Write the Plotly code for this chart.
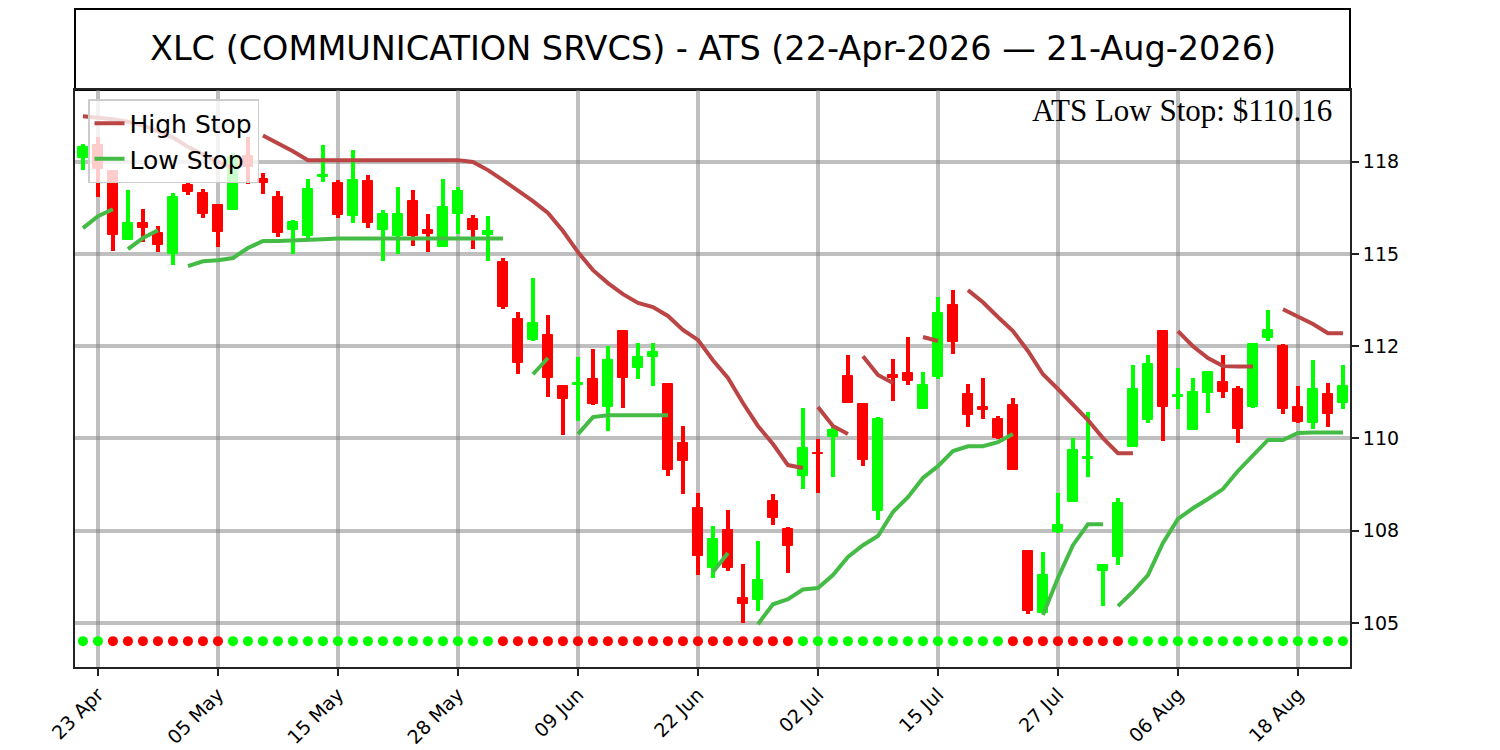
import plotly.graph_objects as go

# ---------------- data ----------------
title_text = "XLC (COMMUNICATION SRVCS) - ATS (22-Apr-2026 \u2014 21-Aug-2026)"
stop_label = "ATS Low Stop: $110.16"

opens = [117.61, 117.95, 117.24, 115.39, 115.85, 115.57, 114.99, 116.86, 116.64, 116.32,
         116.20, 117.65, 117.03, 116.55, 115.66, 115.48, 117.07, 116.92, 116.02, 116.97,
         115.64, 115.48, 116.43, 115.64, 115.20, 116.07, 115.94, 115.51, 114.77, 113.25,
         112.68, 112.80, 111.42, 111.46, 111.60, 110.86, 112.92, 111.90, 112.21, 111.47,
         109.88, 108.11, 106.48, 107.52, 105.67, 105.62, 108.31, 107.54, 108.98, 109.62,
         110.05, 111.69, 110.93, 108.04, 111.72, 111.78, 110.79, 111.67, 113.61, 111.20,
         110.84, 110.52, 110.90, 106.95, 105.26, 107.47, 108.29, 109.44, 106.42, 106.78,
         109.78, 110.50, 112.92, 111.12, 110.23, 111.22, 111.54, 111.33, 110.84, 112.71,
         112.50, 110.86, 110.41, 111.20, 110.97]
highs = [117.99, 118.16, 117.27, 116.73, 116.21, 115.75, 116.64, 116.93, 116.75, 116.34,
         117.73, 118.16, 117.18, 116.71, 115.93, 117.03, 117.95, 117.01, 117.81, 117.13,
         116.20, 116.82, 116.73, 116.08, 117.04, 116.82, 116.05, 116.02, 114.88, 113.42,
         114.34, 113.34, 111.45, 112.20, 112.42, 112.50, 112.95, 112.58, 112.58, 111.47,
         110.34, 108.51, 107.63, 108.06, 106.60, 107.22, 108.49, 107.61, 110.82, 109.98,
         110.36, 112.26, 110.95, 110.59, 112.15, 112.74, 111.79, 113.82, 114.02, 111.47,
         111.63, 110.61, 111.09, 106.95, 106.93, 108.53, 110.02, 110.71, 106.60, 108.38,
         111.99, 112.26, 112.94, 111.90, 111.65, 111.81, 112.26, 111.41, 112.58, 113.48,
         112.56, 111.42, 112.12, 111.51, 111.99]
lows = [117.27, 116.54, 115.08, 115.37, 115.33, 115.06, 114.70, 116.59, 115.96, 115.19,
        116.18, 116.90, 116.62, 115.45, 114.99, 115.37, 116.95, 115.98, 115.84, 115.71,
        114.81, 114.99, 115.22, 115.06, 115.18, 115.54, 115.13, 114.81, 113.50, 111.74,
        112.65, 111.13, 110.09, 110.48, 110.90, 110.21, 110.82, 111.60, 111.41, 108.99,
        108.49, 106.30, 106.21, 106.42, 105.01, 105.33, 107.65, 106.36, 108.62, 108.53,
        108.96, 110.95, 109.25, 107.79, 111.02, 111.45, 110.79, 111.60, 112.28, 110.30,
        110.52, 109.98, 109.16, 105.24, 105.26, 107.44, 108.29, 108.96, 105.46, 106.57,
        109.78, 110.43, 109.94, 110.79, 110.23, 110.70, 111.11, 109.89, 110.82, 112.65,
        110.66, 110.43, 110.25, 110.30, 110.79]
closes = [117.90, 117.30, 115.51, 115.83, 115.71, 115.24, 116.55, 116.68, 116.07, 115.60,
          117.62, 117.35, 116.91, 115.56, 115.87, 116.77, 117.13, 116.05, 116.99, 115.83,
          116.09, 116.09, 115.48, 115.53, 116.26, 116.70, 115.66, 115.62, 113.55, 112.05,
          113.12, 111.65, 111.06, 111.50, 110.93, 112.12, 111.63, 112.20, 112.33, 109.14,
          109.40, 106.82, 107.27, 106.48, 105.53, 106.16, 107.84, 107.09, 109.73, 109.58,
          110.23, 110.97, 109.42, 110.54, 111.63, 111.56, 111.45, 113.39, 112.62, 110.63,
          110.77, 110.00, 109.16, 105.33, 106.30, 107.65, 109.69, 109.51, 106.57, 108.24,
          111.33, 112.03, 110.84, 111.18, 111.26, 111.81, 111.26, 110.25, 112.56, 112.95,
          110.79, 110.45, 111.33, 110.66, 111.42]

# trend state per bar (1 = up / low stop active, -1 = down / high stop active)
trend = [1] * 2 + [-1] * 8 + [1] * 18 + [-1] * 20 + [1] * 14 + [-1] * 8 + [1] * 15

# stop-line segments: (first bar index, values)
high_stop_segments = [
    (0, [118.73, 118.70, 118.65, 118.58, 118.48, 118.32, 118.15, 117.90, 117.70, 117.49, 117.33]),
    (12, [118.21, 118.00, 117.78] + [117.54] * 11 +
         [117.49, 117.27, 117.00, 116.73, 116.43, 116.11, 115.62, 115.05, 114.56, 114.21,
          113.91, 113.67, 113.56, 113.32, 112.94, 112.67, 112.12, 111.64, 110.96, 110.34,
          109.85, 109.28, 109.20]),
    (49, [110.85, 110.34, 110.12]),
    (52, [112.23, 111.72, 111.50]),
    (56, [112.75, 112.64]),
    (59, [114.02, 113.69, 113.29, 112.91, 112.37, 111.74, 111.34, 110.90, 110.50, 110.01,
          109.60, 109.60]),
    (73, [112.91, 112.50, 112.18, 111.96, 111.95, 111.95]),
    (80, [113.50, 113.29, 113.10, 112.85, 112.85]),
]
low_stop_segments = [
    (0, [115.70, 116.02, 116.21]),
    (3, [115.13, 115.43, 115.64]),
    (7, [114.67, 114.80, 114.83, 114.89, 115.16, 115.35, 115.35, 115.36, 115.39, 115.40] +
        [115.42] * 12),
    (30, [111.74, 112.18]),
    (33, [110.12, 110.58, 110.63, 110.63, 110.63, 110.63, 110.63]),
    (42, [106.38, 106.90]),
    (45, [104.97, 105.51, 105.65, 105.91, 105.95, 106.30, 106.79, 107.11, 107.36, 108.01,
          108.41, 108.93, 109.25, 109.66, 109.79, 109.79, 109.90, 110.12]),
    (64, [105.22, 106.22, 107.11, 107.68, 107.68]),
    (69, [105.46, 105.85, 106.30, 107.17, 107.82, 108.11, 108.36, 108.63, 109.12, 109.55,
          109.96, 109.96, 110.15, 110.16, 110.16, 110.16]),
]

x_tick_index = [1, 9, 17, 25, 33, 41, 49, 57, 65, 73, 81]
x_tick_labels = ["23 Apr", "05 May", "15 May", "28 May", "09 Jun", "22 Jun",
                 "02 Jul", "15 Jul", "27 Jul", "06 Aug", "18 Aug"]
y_tick_values = [105, 107.5, 110, 112.5, 115, 117.5]
y_tick_labels = ["105", "108", "110", "112", "115", "118"]

# ---------------- styling constants ----------------
UP = "#00ff00"
DOWN = "#ff0000"
HIGH_COL = "#bb4444"
LOW_COL = "#44bb44"
GRID = "rgba(128,128,128,0.5)"
AXIS = "#222222"
DOT_LEVEL = 104.51
Y_RANGE = [103.81, 119.44]
X_RANGE = [-0.53, 84.47]
PLOT_W = 1275.0
PLOT_H = 577.0
PAGE_OFF = 8  # default page margin of the html body

n = len(opens)
idx = list(range(n))
candle_col = [UP if c >= o else DOWN for o, c in zip(opens, closes)]

fig = go.Figure()

# wicks
fig.add_trace(go.Bar(
    x=idx, y=[h - l for h, l in zip(highs, lows)], base=lows, width=0.22,
    marker=dict(color=candle_col, line=dict(width=0)), showlegend=False, hoverinfo="skip"))
# bodies
fig.add_trace(go.Bar(
    x=idx, y=[abs(c - o) for o, c in zip(opens, closes)],
    base=[min(o, c) for o, c in zip(opens, closes)], width=0.70,
    marker=dict(color=candle_col, line=dict(width=1, color=candle_col)),
    showlegend=False, hoverinfo="skip"))

# stop lines
for k, (start, vals) in enumerate(high_stop_segments):
    fig.add_trace(go.Scatter(
        x=list(range(start, start + len(vals))), y=vals, mode="lines",
        line=dict(color=HIGH_COL, width=4), name="High Stop",
        legendgroup="high", showlegend=(k == 0)))
for k, (start, vals) in enumerate(low_stop_segments):
    fig.add_trace(go.Scatter(
        x=list(range(start, start + len(vals))), y=vals, mode="lines",
        line=dict(color=LOW_COL, width=4), name="Low Stop",
        legendgroup="low", showlegend=(k == 0)))

# trend dots
fig.add_trace(go.Scatter(
    x=idx, y=[DOT_LEVEL] * n, mode="markers",
    marker=dict(size=10, color=[UP if t > 0 else DOWN for t in trend]),
    showlegend=False, hoverinfo="skip"))

# title box
fig.add_shape(type="rect", xref="paper", yref="paper", x0=0, x1=1,
              y0=1, y1=1 + (90 - 9) / PLOT_H, line=dict(color="black", width=2),
              fillcolor="white", layer="below")
fig.add_annotation(text=title_text, xref="paper", yref="paper", x=0.5,
                   y=1 + (90 - 49) / PLOT_H, xanchor="center", yanchor="middle",
                   showarrow=False, font=dict(family="DejaVu Sans", size=33.5, color="black"))
fig.add_annotation(text=stop_label, xref="paper", yref="paper", x=(1334 - 75) / PLOT_W,
                   y=1 - (110 - 90) / PLOT_H, xanchor="right", yanchor="middle",
                   showarrow=False, font=dict(family="Liberation Serif", size=31, color="black"))

fig.update_layout(
    width=1500 - PAGE_OFF, height=750 - PAGE_OFF,
    margin=dict(l=75 - PAGE_OFF, r=150, t=90 - PAGE_OFF, b=83, autoexpand=False),
    paper_bgcolor="white", plot_bgcolor="white",
    barmode="overlay", bargap=0,
    font=dict(family="DejaVu Sans", color="black"),
    legend=dict(x=(88 - 75) / PLOT_W, y=1 - (99 - 90) / PLOT_H, xanchor="left", yanchor="top",
                bgcolor="rgba(255,255,255,0.8)", bordercolor="#cccccc", borderwidth=1.5,
                font=dict(family="DejaVu Sans", size=25, color="black"),
                itemwidth=30, tracegroupgap=0),
    xaxis=dict(range=X_RANGE, tickmode="array", tickvals=x_tick_index, ticktext=x_tick_labels,
               tickangle=-45, ticks="outside", ticklen=7, tickwidth=1.5, tickcolor=AXIS,
               showgrid=True, gridcolor=GRID, gridwidth=4, zeroline=False,
               showline=True, linecolor=AXIS, linewidth=2, mirror=True, automargin=False,
               tickfont=dict(family="DejaVu Sans", size=19, color="black")),
    yaxis=dict(range=Y_RANGE, side="right", tickmode="array", tickvals=y_tick_values,
               ticktext=y_tick_labels, ticks="outside", ticklen=7, tickwidth=1.5,
               tickcolor=AXIS, showgrid=True, gridcolor=GRID, gridwidth=4, zeroline=False,
               showline=True, linecolor=AXIS, linewidth=2, mirror=True, automargin=False,
               tickfont=dict(family="DejaVu Sans", size=19, color="black")),
)

fig.write_html("out.html")
